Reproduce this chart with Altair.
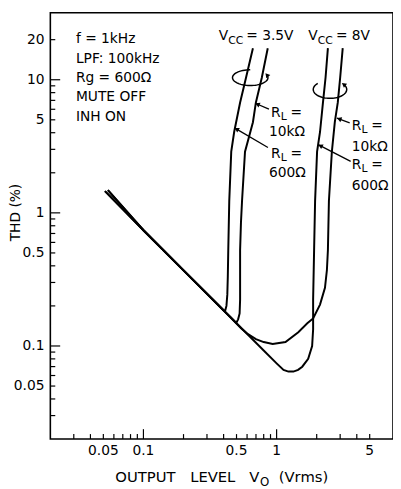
import altair as alt
import numpy as np
import pandas as pd

FONT = "DejaVu Sans"

# ---- curves: output level (Vrms) vs THD (%) ----
curve_names = ["3.5V 600", "3.5V 10k", "8V 600", "8V 10k"]
a_x = [0.0514, 0.10, 0.20, 0.36, 0.400, 0.412, 0.420, 0.4264, 0.430, 0.4335, 0.441, 0.4564, 0.480, 0.532, 0.589, 0.664]
a_y = [1.455, 0.74, 0.37, 0.206, 0.185, 0.186, 0.200, 0.243, 0.33, 0.523, 1.227, 2.88, 4.05, 6.75, 10.35, 17.26]
b_x = [0.0514, 0.10, 0.20, 0.40, 0.472, 0.497, 0.514, 0.5275, 0.532, 0.532, 0.540, 0.550, 0.579, 0.664, 0.699, 0.774, 0.858]
b_y = [1.455, 0.74, 0.37, 0.185, 0.157, 0.149, 0.1585, 0.1756, 0.223, 0.523, 0.85, 1.227, 2.88, 4.80, 6.75, 10.35, 17.26]
c_x = [0.0541, 0.10, 0.20, 0.50, 0.80, 1.0, 1.127, 1.227, 1.336, 1.45, 1.558, 1.726, 1.848, 1.880, 1.880, 1.912, 1.945, 2.013, 2.118, 2.229, 2.33, 2.427]
c_y = [1.48, 0.74, 0.37, 0.148, 0.0925, 0.074, 0.0660, 0.0642, 0.0642, 0.0662, 0.0699, 0.0801, 0.10, 0.1336, 0.223, 0.523, 1.227, 2.88, 4.05, 6.75, 10.35, 17.26]
d_x = [0.0541, 0.10, 0.20, 0.45, 0.541, 0.610, 0.699, 0.80, 0.934, 1.166, 1.455, 1.70, 1.880, 2.118, 2.307, 2.386, 2.427, 2.47, 2.599, 2.735, 2.88, 3.0, 3.136]
d_y = [1.48, 0.74, 0.37, 0.1644, 0.136, 0.1227, 0.1127, 0.107, 0.1034, 0.107, 0.127, 0.148, 0.161, 0.2047, 0.2735, 0.372, 0.523, 1.227, 2.88, 4.80, 6.75, 10.35, 17.26]

# ---- axis ticks / labels ----
x_labels = [0.05, 0.1, 0.5, 1, 5]
y_labels = [0.05, 0.1, 0.5, 1, 5, 10, 20]
x_major = [0.1, 1]
x_minor = [0.03, 0.04, 0.05, 0.06, 0.07, 0.08, 0.09, 0.2, 0.3, 0.4, 0.5, 0.6, 0.7, 0.8, 0.9, 2, 3, 4, 5]
y_major = [0.1, 1, 10]
y_minor = [0.03, 0.04, 0.05, 0.06, 0.07, 0.08, 0.09, 0.2, 0.3, 0.4, 0.5, 0.6, 0.7, 0.8, 0.9,
           2, 3, 4, 5, 6, 7, 8, 9, 20]
y_title = "THD (%)"

W, H = 348, 433
X_DOM = [0.02, 7.48]
Y_DOM = [0.02, 31.9]

rows = []
for name, xs, ys in zip(curve_names, [a_x, b_x, c_x, d_x], [a_y, b_y, c_y, d_y]):
    for i, (xv, yv) in enumerate(zip(xs, ys)):
        rows.append({"curve": name, "i": i, "x": xv, "y": yv})
df = pd.DataFrame(rows)

xscale = alt.Scale(type="log", domain=X_DOM, nice=False)
yscale = alt.Scale(type="log", domain=Y_DOM, nice=False)


# annotation placement helpers: plot-area offset -> data units on the log scales
def ax(px):
    return float(10 ** (np.log10(X_DOM[0]) + px / W * np.log10(X_DOM[1] / X_DOM[0])))


def ay(py):
    return float(10 ** (np.log10(Y_DOM[1]) - py / H * np.log10(Y_DOM[1] / Y_DOM[0])))


X = lambda f="x": alt.X(f"{f}:Q", scale=xscale, axis=None)
Y = lambda f="y": alt.Y(f"{f}:Q", scale=yscale, axis=None)

curves = alt.Chart(df).mark_line(color="black", strokeWidth=2).encode(
    x=X(), y=Y(), detail="curve:N", order="i:Q")


def xticks(vals, length):
    return alt.Chart(pd.DataFrame({"x": vals})).mark_rule(color="black", strokeWidth=1.2).encode(
        x=X(), y=alt.value(H), y2=alt.value(H - length))


def yticks(vals, length):
    return alt.Chart(pd.DataFrame({"y": vals})).mark_rule(color="black", strokeWidth=1.2).encode(
        y=Y(), x=alt.value(0), x2=alt.value(length))


x_tick_labels = alt.Chart(pd.DataFrame({"x": x_labels})).mark_text(
    font=FONT, fontSize=14, color="black", align="center", baseline="top").encode(
    x=X(), y=alt.value(H + 5), text=alt.Text("x:Q", format="~g"))
y_tick_labels = alt.Chart(pd.DataFrame({"y": y_labels})).mark_text(
    font=FONT, fontSize=14, color="black", align="right", baseline="middle").encode(
    y=Y(), x=alt.value(-6), text=alt.Text("y:Q", format="~g"))
y_title_layer = alt.Chart(pd.DataFrame({"t": [y_title]})).mark_text(
    font=FONT, fontSize=14, color="black", align="center", baseline="middle", angle=270).encode(
    x=alt.value(-35), y=alt.value(203), text="t:N")

# ---- annotations ----
main_texts = [
    ("f = 1kHz", 26, 31), ("LPF: 100kHz", 26, 51), ("Rg = 600Ω", 26, 70.5),
    ("MUTE OFF", 26, 90), ("INH ON", 26, 110),
    ("V", 171, 28), ("= 3.5V", 199, 28), ("V", 262, 28), ("= 8V", 290, 28),
    ("R", 224, 106), ("=", 244, 106), ("10kΩ", 222, 125),
    ("R", 224, 148), ("=", 244, 148), ("600Ω", 222, 167),
    ("R", 306, 119), ("=", 326, 119), ("10kΩ", 306, 140),
    ("R", 306, 159), ("=", 326, 159), ("600Ω", 306, 180),
]
sub_texts = [
    ("CC", 180.6, 32), ("CC", 271.6, 32),
    ("L", 234, 109), ("L", 234, 151), ("L", 316, 122), ("L", 316, 162),
]
title_texts = [("OUTPUT", 66, 477), ("LEVEL", 142, 477), ("V", 202, 477), ("(Vrms)", 232, 477)]
title_sub = [("O", 213, 481)]


def text_layer(items, size):
    d = pd.DataFrame([{"t": t, "x": ax(px), "y": ay(py)} for t, px, py in items])
    return alt.Chart(d).mark_text(align="left", baseline="alphabetic", font=FONT,
                                  fontSize=size, color="black").encode(x=X(), y=Y(), text="t:N")


# leader lines: tail (label side) -> head (curve side)
leader_px = [(222, 98, 208, 92), (221, 137, 187, 117), (304, 112, 291, 107), (305, 151, 272, 134)]


def head_angle(dx, dy):
    return float(np.degrees(np.arctan2(dx, -dy)) % 360)


leaders = []
heads = []
for x1, y1, x2, y2 in leader_px:
    leaders.append({"x": ax(x1), "y": ay(y1), "x2": ax(x2), "y2": ay(y2)})
    dx, dy = x2 - x1, y2 - y1
    n = np.hypot(dx, dy)
    heads.append({"x": ax(x2 - 2.5 * dx / n), "y": ay(y2 - 2.5 * dy / n), "ang": head_angle(dx, dy)})

# rotation swirls around each pair of curves
swirl_rows = []
for g, (cx, cy, rx, ry, p0, p1) in enumerate([(203, 66, 18, 8, -90, -380), (284, 78, 17, 9, -137, -395)]):
    ph = np.radians(np.linspace(p0, p1, 48))
    for k, p in enumerate(ph):
        swirl_rows.append({"g": g, "k": k, "x": ax(cx + rx * np.cos(p)), "y": ay(cy + ry * np.sin(p))})
    pe = np.radians(p1)
    dx, dy = rx * np.sin(pe), -ry * np.cos(pe)
    heads.append({"x": ax(cx + rx * np.cos(pe)), "y": ay(cy + ry * np.sin(pe)), "ang": head_angle(dx, dy)})

leader_layer = alt.Chart(pd.DataFrame(leaders)).mark_rule(color="black", strokeWidth=1.3).encode(
    x=X(), y=Y(), x2="x2:Q", y2="y2:Q")
head_layer = alt.Chart(pd.DataFrame(heads)).mark_point(shape="triangle-up", filled=True, color="black",
                                                      size=28, opacity=1).encode(
    x=X(), y=Y(), angle=alt.Angle("ang:Q", scale=None))
swirl_layer = alt.Chart(pd.DataFrame(swirl_rows)).mark_line(color="black", strokeWidth=1.5).encode(
    x=X(), y=Y(), detail="g:N", order="k:Q")

chart = alt.layer(
    curves,
    xticks(x_minor, 5), xticks(x_major, 10),
    yticks(y_minor, 5), yticks(y_major, 10),
    x_tick_labels, y_tick_labels, y_title_layer,
    swirl_layer, leader_layer, head_layer,
    text_layer(main_texts, 14), text_layer(sub_texts, 11),
    text_layer(title_texts, 15), text_layer(title_sub, 12),
).properties(
    width=W, height=H,
    padding={"left": 43, "top": 1, "right": 0, "bottom": 47},
    autosize=alt.AutoSizeParams(type="none"),
).configure(background="white").configure_view(stroke="black", strokeWidth=1.6)

chart.save("out.html", embed_options={"renderer": "svg", "actions": False})
